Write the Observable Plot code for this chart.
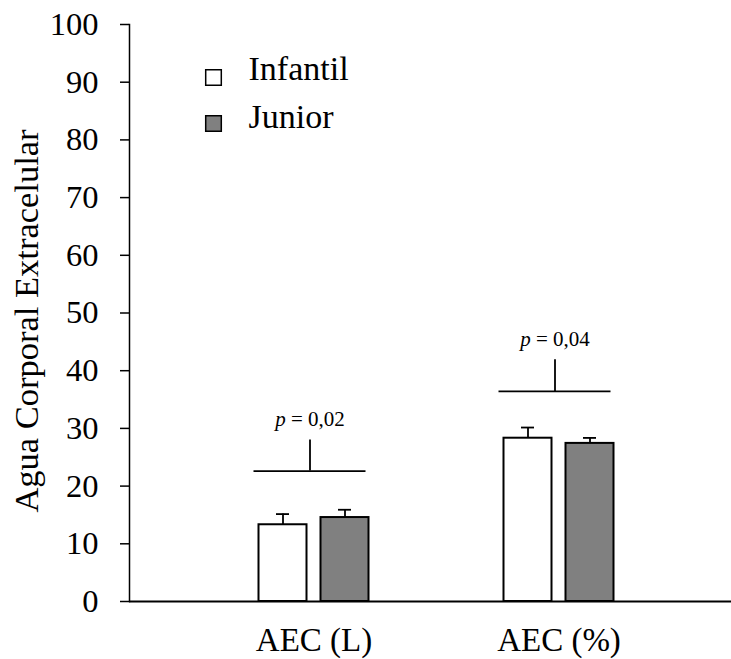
<!DOCTYPE html>
<html>
<head>
<meta charset="utf-8">
<script src="https://cdn.jsdelivr.net/npm/d3@7"></script>
<script src="https://cdn.jsdelivr.net/npm/@observablehq/plot@0.6"></script>
<style>
  html, body { margin: 0; padding: 0; background: white; }
</style>
</head>
<body>
<div id="chart"></div>
<script>
const categories = ["AEC (L)", "AEC (%)"];
const groups = ["Infantil", "Junior"];
const infantilMean = [13.3, 28.3];
const infantilSD = [1.85, 1.85];
const juniorMean = [14.55, 27.4];
const juniorSD = [1.35, 0.95];
const bracketY = [22.6, 36.4];
const bracketTop = [28.0, 41.9];
const pLabelY = [30.4, 44.3];
const pLabels = ["p = 0,02", "p = 0,04"];
const yTicks = [0, 10, 20, 30, 40, 50, 60, 70, 80, 90, 100];
const yLabel = "Agua Corporal Extracelular";
const groupFill = ["white", "#808080"];

const series = [
  categories.map((c, i) => ({cat: c, mean: infantilMean[i], sd: infantilSD[i]})),
  categories.map((c, i) => ({cat: c, mean: juniorMean[i], sd: juniorSD[i]}))
];
const brackets = categories.map((c, i) => ({cat: c, y: bracketY[i], top: bracketTop[i], ty: pLabelY[i], label: pLabels[i]}));
const offsets = [-31, 31];

const marks = [];
series.forEach((data, g) => {
  marks.push(Plot.barY(data, {x: "cat", y: "mean", fill: groupFill[g], stroke: "black", strokeWidth: 2, insetLeft: 98.5, insetRight: 98.5, dx: offsets[g]}));
  marks.push(Plot.ruleX(data, {x: "cat", y1: "mean", y2: d => d.mean + d.sd, stroke: "black", strokeWidth: 1.8, dx: offsets[g]}));
  marks.push(Plot.tickY(data, {x: "cat", y: d => d.mean + d.sd, stroke: "black", strokeWidth: 1.8, insetLeft: 116, insetRight: 116, dx: offsets[g]}));
});
marks.push(Plot.tickY(brackets, {x: "cat", y: "y", stroke: "black", strokeWidth: 1.8, insetLeft: 66.5, insetRight: 66.5, dx: -4}));
marks.push(Plot.ruleX(brackets, {x: "cat", y1: "y", y2: "top", stroke: "black", strokeWidth: 1.8, dx: -4}));
marks.push(Plot.text(brackets, {x: "cat", y: "ty", text: "label", fontSize: 21, lineAnchor: "bottom", textAnchor: "middle", dx: -4, fill: "black"}));

groups.forEach((g, i) => {
  marks.push(Plot.dot([g], {frameAnchor: "top-left", dx: 84, dy: 53 + i * 46, symbol: "square", r: 8.8, fill: groupFill[i], stroke: "black", strokeWidth: 1.5}));
  marks.push(Plot.text([g], {frameAnchor: "top-left", dx: 119, dy: 44.5 + i * 48.5, text: d => d, textAnchor: "start", lineAnchor: "middle", fontSize: 34, fill: "black"}));
});

marks.push(Plot.text([yLabel], {frameAnchor: "left", dx: -103, dy: 8, rotate: -90, text: d => d, textAnchor: "middle", lineAnchor: "middle", fontSize: 34.5, fill: "black"}));
marks.push(Plot.axisY({ticks: yTicks, tickSize: 9, tickPadding: 22, fontSize: 32.5, label: null, strokeWidth: 1.5, tickFormat: d => String(d)}));
marks.push(Plot.axisX({tickSize: 0, tickPadding: 26, fontSize: 33, label: null}));
marks.push(Plot.frame({anchor: "left", stroke: "black", strokeWidth: 1.5}));
marks.push(Plot.ruleY([0], {stroke: "black", strokeWidth: 1.8}));

const plot = Plot.plot({
  width: 731,
  height: 659,
  marginLeft: 129,
  marginRight: 0,
  marginTop: 24,
  marginBottom: 58,
  style: {fontFamily: "'Liberation Serif', 'Times New Roman', serif", background: "white", color: "black"},
  x: {type: "band", domain: categories, range: [191.2, 681.2], padding: 0},
  y: {domain: [0, 100]},
  marks
});

plot.querySelectorAll("text").forEach(t => {
  const s = t.textContent;
  if (s.startsWith("p =")) {
    t.textContent = "";
    const ts = document.createElementNS("http://www.w3.org/2000/svg", "tspan");
    ts.setAttribute("font-style", "italic");
    ts.textContent = "p";
    t.appendChild(ts);
    t.appendChild(document.createTextNode(s.slice(1)));
  }
});

document.getElementById("chart").appendChild(plot);
</script>
</body>
</html>
